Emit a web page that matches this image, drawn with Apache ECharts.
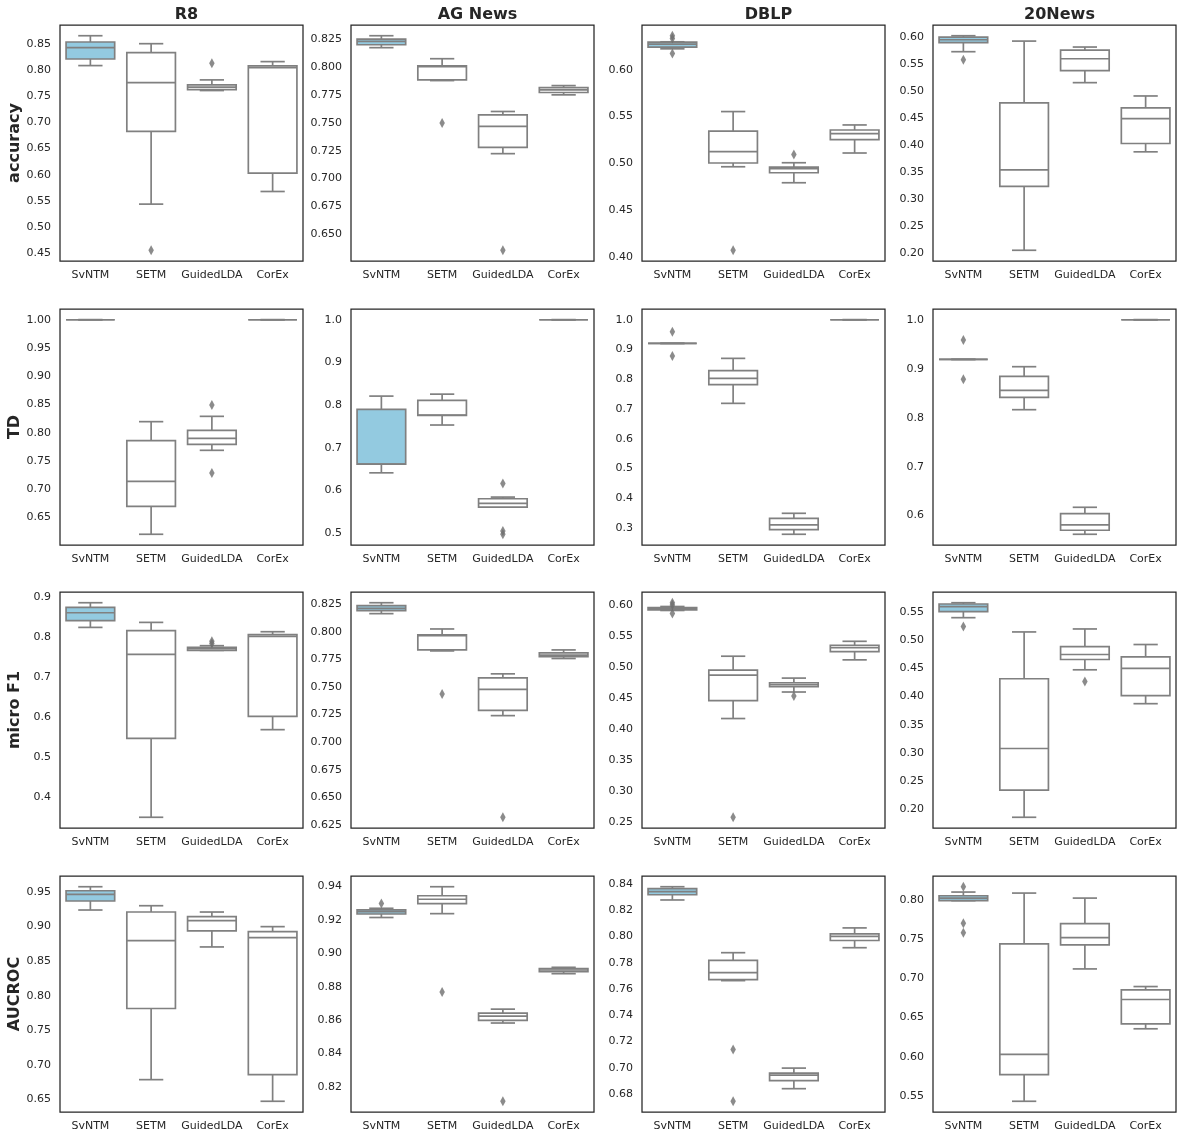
<!DOCTYPE html>
<html>
<head>
<meta charset="utf-8">
<title>Topic model metrics</title>
<script src="https://cdn.jsdelivr.net/npm/echarts@6/dist/echarts.min.js"></script>
<style>
  html, body { margin: 0; padding: 0; background: #fff; }
  #main { width: 1183px; height: 1139px; }
</style>
</head>
<body>
<div id="main"></div>
<script>
var methods = ['SvNTM', 'SETM', 'GuidedLDA', 'CorEx'];
var datasets = ['R8', 'AG News', 'DBLP', '20News'];
var metrics = ['accuracy', 'TD', 'micro F1', 'AUCROC'];

// one block per dataset, one row per method: [min, Q1, median, Q3, max]
var accuracyBoxes = [
    [[0.8082, 0.8208, 0.8424, 0.8532, 0.8652], [0.5438, 0.6826, 0.7758, 0.8329, 0.8500], [0.7606, 0.7625, 0.7670, 0.7714, 0.7809], [0.5679, 0.6028, 0.8044, 0.8075, 0.8158]],
    [[0.8173, 0.8199, 0.8229, 0.8250, 0.8280], [0.7878, 0.7884, 0.8003, 0.8009, 0.8074], [0.7223, 0.7280, 0.7467, 0.7571, 0.7601], [0.7750, 0.7771, 0.7795, 0.7815, 0.7833]],
    [[0.6225, 0.6243, 0.6275, 0.6296, 0.6300], [0.4964, 0.5004, 0.5125, 0.5346, 0.5554], [0.4793, 0.4900, 0.4943, 0.4961, 0.5007], [0.5111, 0.5254, 0.5318, 0.5357, 0.5411]],
    [[0.5730, 0.5896, 0.5951, 0.6000, 0.6025], [0.2061, 0.3241, 0.3548, 0.4783, 0.5926], [0.5158, 0.5379, 0.5600, 0.5760, 0.5816], [0.3880, 0.4034, 0.4495, 0.4691, 0.4912]]
];
var tdBoxes = [
    [[1, 1, 1, 1, 1], [0.6205, 0.6700, 0.7142, 0.7861, 0.8197], [0.7690, 0.7796, 0.7902, 0.8044, 0.8291], [1, 1, 1, 1, 1]],
    [[0.6410, 0.6612, 0.6612, 0.7897, 0.8209], [0.7531, 0.7757, 0.7765, 0.8107, 0.8255], [0.5607, 0.5607, 0.5693, 0.5802, 0.5841], [1, 1, 1, 1, 1]],
    [[0.9205, 0.9205, 0.9205, 0.9205, 0.9205], [0.7189, 0.7816, 0.8029, 0.8287, 0.8701], [0.2788, 0.2944, 0.3101, 0.3325, 0.3493], [1, 1, 1, 1, 1]],
    [[0.9190, 0.9190, 0.9190, 0.9190, 0.9190], [0.8163, 0.8415, 0.8558, 0.8844, 0.9041], [0.5619, 0.5701, 0.5810, 0.6041, 0.6170], [1, 1, 1, 1, 1]]
];
var microF1Boxes = [
    [[0.8251, 0.8418, 0.8617, 0.8750, 0.8867], [0.3509, 0.5481, 0.7577, 0.8168, 0.8376], [0.7677, 0.7677, 0.7719, 0.7752, 0.7794], [0.5697, 0.6030, 0.8027, 0.8068, 0.8143]],
    [[0.8166, 0.8193, 0.8214, 0.8238, 0.8265], [0.7828, 0.7837, 0.7967, 0.7973, 0.8027], [0.7241, 0.7289, 0.7479, 0.7584, 0.7620], [0.7759, 0.7777, 0.7789, 0.7810, 0.7837]],
    [[0.5920, 0.5930, 0.5952, 0.5968, 0.5984], [0.4172, 0.4462, 0.4874, 0.4955, 0.5180], [0.4601, 0.4687, 0.4719, 0.4751, 0.4826], [0.5121, 0.5255, 0.5319, 0.5357, 0.5421]],
    [[0.5405, 0.5512, 0.5601, 0.5648, 0.5671], [0.1852, 0.2337, 0.3076, 0.4318, 0.5151], [0.4477, 0.4660, 0.4749, 0.4891, 0.5204], [0.3874, 0.4016, 0.4501, 0.4708, 0.4927]]
];
var aucrocBoxes = [
    [[0.9236, 0.9366, 0.9462, 0.9514, 0.9572], [0.6788, 0.7815, 0.8794, 0.9207, 0.9298], [0.8703, 0.8934, 0.9082, 0.9140, 0.9207], [0.6476, 0.6860, 0.8838, 0.8924, 0.8996]],
    [[0.9214, 0.9235, 0.9249, 0.9259, 0.9269], [0.9237, 0.9297, 0.9323, 0.9344, 0.9398], [0.8583, 0.8599, 0.8624, 0.8642, 0.8666], [0.8878, 0.8890, 0.8900, 0.8908, 0.8916]],
    [[0.8279, 0.8319, 0.8342, 0.8365, 0.8380], [0.7664, 0.7672, 0.7725, 0.7819, 0.7877], [0.6840, 0.6901, 0.6944, 0.6959, 0.6997], [0.7915, 0.7970, 0.8001, 0.8021, 0.8066]],
    [[0.7992, 0.7992, 0.8025, 0.8055, 0.8102], [0.5432, 0.5772, 0.6031, 0.7440, 0.8089], [0.7121, 0.7427, 0.7520, 0.7699, 0.8025], [0.6357, 0.6421, 0.6731, 0.6854, 0.6896]]
];

// outliers per dataset: [method index, value]
var accuracyOutliers = [
    [[1, 0.4557], [2, 0.8126]],
    [[1, 0.7497], [2, 0.6357]],
    [[0, 0.6365], [0, 0.6335], [0, 0.6175], [1, 0.4071], [2, 0.5096]],
    [[0, 0.5582]]
];
var tdOutliers = [
    [[2, 0.8491], [2, 0.7289]],
    [[2, 0.6160], [2, 0.5047], [2, 0.4969]],
    [[0, 0.9597], [0, 0.8779]],
    [[0, 0.9585], [0, 0.8782]]
];
var microF1Outliers = [
    [[2, 0.7905], [2, 0.7850]],
    [[1, 0.7437], [2, 0.6319]],
    [[0, 0.6045], [0, 0.6010], [0, 0.5870], [1, 0.2575], [2, 0.4537]],
    [[0, 0.5246], [2, 0.4270]]
];
var aucrocOutliers = [
    [],
    [[0, 0.9297], [1, 0.8769], [2, 0.8115]],
    [[1, 0.7139], [1, 0.6744]],
    [[0, 0.8170], [0, 0.7703], [0, 0.7584]]
];

// y tick labels per dataset
var accuracyTicks = [
    ['0.45', '0.50', '0.55', '0.60', '0.65', '0.70', '0.75', '0.80', '0.85'],
    ['0.650', '0.675', '0.700', '0.725', '0.750', '0.775', '0.800', '0.825'],
    ['0.40', '0.45', '0.50', '0.55', '0.60'],
    ['0.20', '0.25', '0.30', '0.35', '0.40', '0.45', '0.50', '0.55', '0.60']
];
var tdTicks = [
    ['0.65', '0.70', '0.75', '0.80', '0.85', '0.90', '0.95', '1.00'],
    ['0.5', '0.6', '0.7', '0.8', '0.9', '1.0'],
    ['0.3', '0.4', '0.5', '0.6', '0.7', '0.8', '0.9', '1.0'],
    ['0.6', '0.7', '0.8', '0.9', '1.0']
];
var microF1Ticks = [
    ['0.4', '0.5', '0.6', '0.7', '0.8', '0.9'],
    ['0.625', '0.650', '0.675', '0.700', '0.725', '0.750', '0.775', '0.800', '0.825'],
    ['0.25', '0.30', '0.35', '0.40', '0.45', '0.50', '0.55', '0.60'],
    ['0.20', '0.25', '0.30', '0.35', '0.40', '0.45', '0.50', '0.55']
];
var aucrocTicks = [
    ['0.65', '0.70', '0.75', '0.80', '0.85', '0.90', '0.95'],
    ['0.82', '0.84', '0.86', '0.88', '0.90', '0.92', '0.94'],
    ['0.68', '0.70', '0.72', '0.74', '0.76', '0.78', '0.80', '0.82', '0.84'],
    ['0.55', '0.60', '0.65', '0.70', '0.75', '0.80']
];

var allBoxes = [accuracyBoxes, tdBoxes, microF1Boxes, aucrocBoxes];
var allOutliers = [accuracyOutliers, tdOutliers, microF1Outliers, aucrocOutliers];
var allTicks = [accuracyTicks, tdTicks, microF1Ticks, aucrocTicks];

var textColor = '#262626';
var lineGray = '#808080';
var svntmFill = '#93cae0';
var fontFamily = 'DejaVu Sans';

var colLeft = [60, 351, 642, 933];
var rowTop = [25, 309, 592, 876];
var panelW = 243;
var panelH = 236;

// same padding as matplotlib autoscale (5% each side)
function yExtent(boxes, outliers) {
    var vals = [];
    boxes.forEach(function (b) { vals.push(b[0], b[4]); });
    outliers.forEach(function (o) { vals.push(o[1]); });
    var lo = Math.min.apply(null, vals);
    var hi = Math.max.apply(null, vals);
    var pad = (hi - lo) * 0.05;
    return [lo - pad, hi + pad];
}

function renderBox(params, api) {
    var i = api.value(0);
    var lo = api.coord([i, api.value(1)]);
    var q1 = api.coord([i, api.value(2)]);
    var md = api.coord([i, api.value(3)]);
    var q3 = api.coord([i, api.value(4)]);
    var hi = api.coord([i, api.value(5)]);
    var bw = api.size([1, 0])[0] * 0.8;
    var cx = lo[0];
    function ln(x1, y1, x2, y2) {
        return {
            type: 'line',
            shape: {x1: x1, y1: y1, x2: x2, y2: y2},
            style: {stroke: lineGray, lineWidth: 1.7}
        };
    }
    return {
        type: 'group',
        children: [
            ln(cx, q3[1], cx, hi[1]),
            ln(cx, q1[1], cx, lo[1]),
            ln(cx - bw / 4, hi[1], cx + bw / 4, hi[1]),
            ln(cx - bw / 4, lo[1], cx + bw / 4, lo[1]),
            {
                type: 'rect',
                shape: {x: cx - bw / 2, y: q3[1], width: bw, height: q1[1] - q3[1]},
                style: {fill: i === 0 ? svntmFill : '#ffffff', stroke: lineGray, lineWidth: 1.7}
            },
            ln(cx - bw / 2, md[1], cx + bw / 2, md[1])
        ]
    };
}

var grid = [], xAxis = [], yAxis = [], series = [], title = [];

datasets.forEach(function (name, c) {
    title.push({
        text: name,
        left: colLeft[c] + panelW / 2,
        top: 2,
        textAlign: 'center',
        textStyle: {fontFamily: fontFamily, fontSize: 16, fontWeight: 'bold', color: textColor}
    });
});

metrics.forEach(function (metric, r) {
    datasets.forEach(function (ds, c) {
        var k = grid.length;
        var boxes = allBoxes[r][c];
        var outliers = allOutliers[r][c];
        var ticks = allTicks[r][c];
        var ext = yExtent(boxes, outliers);

        grid.push({
            left: colLeft[c], top: rowTop[r], width: panelW, height: panelH,
            show: true, borderColor: textColor, borderWidth: 1.25, backgroundColor: '#fff'
        });
        xAxis.push({
            type: 'category',
            gridIndex: k,
            data: methods,
            boundaryGap: true,
            axisLine: {show: false},
            axisTick: {show: false},
            splitLine: {show: false},
            axisLabel: {color: textColor, fontSize: 11, fontFamily: fontFamily, margin: 9, interval: 0}
        });
        yAxis.push({
            type: 'value',
            gridIndex: k,
            min: ext[0],
            max: ext[1],
            name: c === 0 ? metric : '',
            nameLocation: 'middle',
            nameRotate: 90,
            nameGap: 37,
            nameTextStyle: {fontFamily: fontFamily, fontSize: 16, fontWeight: 'bold', color: textColor},
            axisLine: {show: false},
            axisTick: {show: false},
            splitLine: {show: false},
            axisLabel: {
                color: textColor, fontSize: 11, fontFamily: fontFamily, margin: 9,
                customValues: ticks.map(Number),
                formatter: function (v) {
                    for (var j = 0; j < ticks.length; j++) {
                        if (Math.abs(Number(ticks[j]) - v) < 1e-9) return ticks[j];
                    }
                    return '';
                }
            }
        });
        series.push({
            type: 'custom',
            xAxisIndex: k,
            yAxisIndex: k,
            renderItem: renderBox,
            encode: {x: 0, y: [1, 2, 3, 4, 5]},
            data: boxes.map(function (b, i) { return [i].concat(b); }),
            z: 2
        });
        series.push({
            type: 'scatter',
            xAxisIndex: k,
            yAxisIndex: k,
            symbol: 'diamond',
            symbolSize: [5.5, 10],
            itemStyle: {color: '#6e6e6e'},
            data: outliers.map(function (o) { return [o[0], o[1]]; }),
            z: 3
        });
    });
});

var myChart = echarts.init(document.getElementById('main'));
myChart.setOption({
    backgroundColor: '#ffffff',
    animation: false,
    title: title,
    grid: grid,
    xAxis: xAxis,
    yAxis: yAxis,
    series: series
});
</script>
</body>
</html>
